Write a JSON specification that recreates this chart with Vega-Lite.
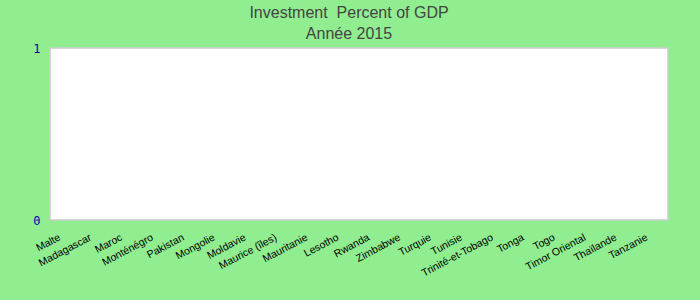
{
  "$schema": "https://vega.github.io/schema/vega-lite/v6.json",
  "autosize": {"type": "none"},
  "width": 618,
  "height": 172,
  "padding": {"left": 50, "top": 48, "right": 32, "bottom": 80},
  "background": "#90EE90",
  "title": {
    "text": ["Investment\u00a0 Percent of GDP", "Année 2015"],
    "font": "Liberation Sans",
    "fontSize": 16,
    "fontWeight": "normal",
    "color": "#444444",
    "lineHeight": 21,
    "anchor": "middle",
    "dx": -10,
    "offset": 0
  },
  "data": {
    "values": [
      {"pays": "Malte", "investment": null},
      {"pays": "Madagascar", "investment": null},
      {"pays": "Maroc", "investment": null},
      {"pays": "Monténégro", "investment": null},
      {"pays": "Pakistan", "investment": null},
      {"pays": "Mongolie", "investment": null},
      {"pays": "Moldavie", "investment": null},
      {"pays": "Maurice (îles)", "investment": null},
      {"pays": "Mauritanie", "investment": null},
      {"pays": "Lesotho", "investment": null},
      {"pays": "Rwanda", "investment": null},
      {"pays": "Zimbabwe", "investment": null},
      {"pays": "Turquie", "investment": null},
      {"pays": "Tunisie", "investment": null},
      {"pays": "Trinité-et-Tobago", "investment": null},
      {"pays": "Tonga", "investment": null},
      {"pays": "Togo", "investment": null},
      {"pays": "Timor Oriental", "investment": null},
      {"pays": "Thaïlande", "investment": null},
      {"pays": "Tanzanie", "investment": null}
    ]
  },
  "mark": {"type": "bar", "color": "#4472C4"},
  "encoding": {
    "x": {
      "field": "pays",
      "type": "nominal",
      "sort": null,
      "title": null,
      "scale": {
        "domain": ["Malte", "Madagascar", "Maroc", "Monténégro", "Pakistan", "Mongolie", "Moldavie", "Maurice (îles)", "Mauritanie", "Lesotho", "Rwanda", "Zimbabwe", "Turquie", "Tunisie", "Trinité-et-Tobago", "Tonga", "Togo", "Timor Oriental", "Thaïlande", "Tanzanie"],
        "paddingInner": 0,
        "paddingOuter": 0
      },
      "axis": {
        "labelAngle": -28,
        "labelAlign": "right",
        "labelBaseline": "top",
        "labelPadding": 12,
        "labelOffset": -8,
        "labelFont": "Liberation Sans",
        "labelFontSize": 10.5,
        "labelColor": "#000000",
        "labelOverlap": false,
        "labelLimit": 300,
        "ticks": false,
        "domain": false,
        "grid": false
      }
    },
    "y": {
      "field": "investment",
      "type": "quantitative",
      "title": null,
      "scale": {"domain": [0, 1], "nice": false},
      "axis": {
        "values": [0, 1],
        "format": "d",
        "labelFont": "DejaVu Sans Mono",
        "labelFontSize": 12,
        "labelColor": "#0000AA",
        "labelPadding": 10,
        "ticks": false,
        "domain": false,
        "grid": false
      }
    }
  },
  "config": {
    "view": {"fill": "#FFFFFF", "stroke": "#CCCCCC", "strokeWidth": 1.5}
  }
}
